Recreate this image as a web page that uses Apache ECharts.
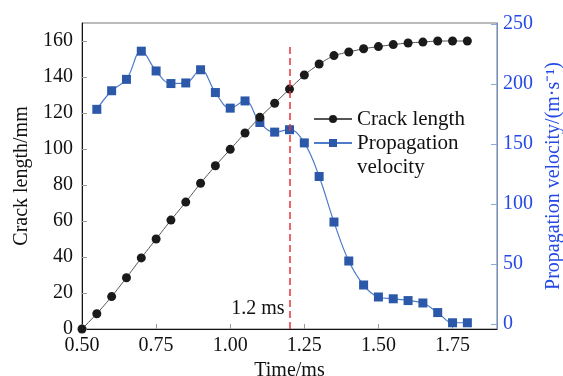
<!DOCTYPE html>
<html>
<head>
<meta charset="utf-8">
<script src="https://cdn.jsdelivr.net/npm/echarts@6/dist/echarts.min.js"></script>
<style>
  html, body { margin: 0; padding: 0; background: #fff; }
  #chart { width: 563px; height: 376px; }
</style>
</head>
<body>
<div id="chart"></div>
<script>
// time (ms)
const time = [0.50, 0.55, 0.60, 0.65, 0.70, 0.75, 0.80, 0.85, 0.90, 0.95, 1.00, 1.05, 1.10, 1.15,
  1.20, 1.25, 1.30, 1.35, 1.40, 1.45, 1.50, 1.55, 1.60, 1.65, 1.70, 1.75, 1.80];
// crack length (mm)
const crackLength = [0, 8.5, 18, 28.5, 39.5, 50, 60.5, 70.5, 81, 90.7, 99.8, 108.9, 117.6, 125.4,
  133.3, 141.1, 147.2, 151.9, 153.9, 155.7, 156.9, 158, 158.9, 159.4, 160, 160, 160];
// propagation velocity (m/s), starts at 0.55 ms
const velTime = time.slice(1);
const velocity = [179, 194.5, 204, 227.5, 211, 200.5, 201, 212, 193, 180, 186, 168, 160,
  162, 151, 123, 85, 52.5, 32.5, 22.5, 21, 19.5, 17.5, 9.5, 1, 1];

const xTicks = [0.5, 0.75, 1.0, 1.25, 1.5, 1.75];
const leftTicks = [0, 20, 40, 60, 80, 100, 120, 140, 160];
const rightTicks = [0, 50, 100, 150, 200, 250];
const markTime = 1.2;

const font = "Liberation Serif";
const blueText = "#2449e6";

const chart = echarts.init(document.getElementById("chart"));

chart.setOption({
  animation: false,
  textStyle: { fontFamily: font },
  grid: {
    left: 82, right: 66, top: 23, bottom: 47,
    outerBoundsMode: "none",
    show: true, borderColor: "#777", borderWidth: 1
  },
  legend: [
    {
      data: ["Crack length"],
      left: 313, top: 107, padding: 0,
      itemWidth: 38, itemHeight: 10, itemGap: 0,
      textStyle: { fontFamily: font, fontSize: 21, color: "#111", lineHeight: 24 }
    },
    {
      data: ["Propagation velocity"],
      left: 313, top: 107, padding: 0,
      itemWidth: 38, itemHeight: 10, itemGap: 0,
      // blank first line so the icon sits level with "Propagation"
      formatter: () => "\u00a0\nPropagation\nvelocity",
      textStyle: { fontFamily: font, fontSize: 21, color: "#111", lineHeight: 24 }
    }
  ],
  xAxis: {
    type: "value",
    min: 0.5, max: 1.9,
    name: "Time/ms",
    nameLocation: "middle",
    nameGap: 27,
    nameTextStyle: { fontFamily: font, fontSize: 20, color: "#111" },
    axisLine: { lineStyle: { color: "#111", width: 1 } },
    axisTick: { inside: true, length: 5, customValues: xTicks, lineStyle: { color: "#999" } },
    axisLabel: {
      customValues: xTicks, margin: 7,
      fontFamily: font, fontSize: 20, color: "#111",
      formatter: v => v.toFixed(2)
    },
    splitLine: { show: false }
  },
  yAxis: [
    {
      type: "value",
      min: 0, max: 170,
      name: "Crack length/mm",
      nameLocation: "middle",
      nameGap: 42,
      nameTextStyle: { fontFamily: font, fontSize: 20, color: "#111" },
      axisLine: { show: true, lineStyle: { color: "#111", width: 1 } },
      axisTick: { inside: true, length: 5, customValues: leftTicks, lineStyle: { color: "#999" } },
      axisLabel: { customValues: leftTicks, margin: 9, fontFamily: font, fontSize: 20, color: "#111" },
      splitLine: { show: false }
    },
    {
      type: "value",
      position: "right",
      min: -4.2, max: 251,
      name: "Propagation velocity/(m·s⁻¹)",
      nameLocation: "middle",
      nameGap: 44,
      nameTextStyle: { fontFamily: font, fontSize: 20, color: blueText },
      axisLine: { show: true, lineStyle: { color: "#6f8fcf", width: 1 } },
      axisTick: { inside: true, length: 6, customValues: rightTicks, lineStyle: { color: "#8fa8dc" } },
      axisLabel: { customValues: rightTicks, margin: 6, fontFamily: font, fontSize: 20, color: blueText },
      splitLine: { show: false }
    }
  ],
  series: [
    {
      name: "Crack length",
      type: "line",
      yAxisIndex: 0,
      data: time.map((t, i) => [t, crackLength[i]]),
      smooth: 0.2,
      symbol: "circle",
      symbolSize: 9,
      lineStyle: { color: "#555", width: 1 },
      itemStyle: { color: "#1a1a1a" },
      z: 3,
      markLine: {
        silent: true,
        symbol: "none",
        lineStyle: { color: "#e8323a", type: [7, 4], width: 1.5 },
        label: { show: false },
        data: [[{ coord: [markTime, 0] }, { coord: [markTime, 158.5] }]]
      },
      markPoint: {
        silent: true,
        symbol: "circle",
        symbolSize: 0,
        label: {
          show: true,
          position: "left",
          distance: 5,
          formatter: "1.2 ms",
          fontFamily: font, fontSize: 20, color: "#111"
        },
        data: [{ coord: [markTime, 11.5] }]
      }
    },
    {
      name: "Propagation velocity",
      type: "line",
      yAxisIndex: 1,
      data: velTime.map((t, i) => [t, velocity[i]]),
      smooth: 0.4,
      symbol: "rect",
      symbolSize: 9,
      lineStyle: { color: "#4f7cca", width: 1.2 },
      itemStyle: { color: "#2b58a8" },
      z: 2
    }
  ]
});
</script>
</body>
</html>
